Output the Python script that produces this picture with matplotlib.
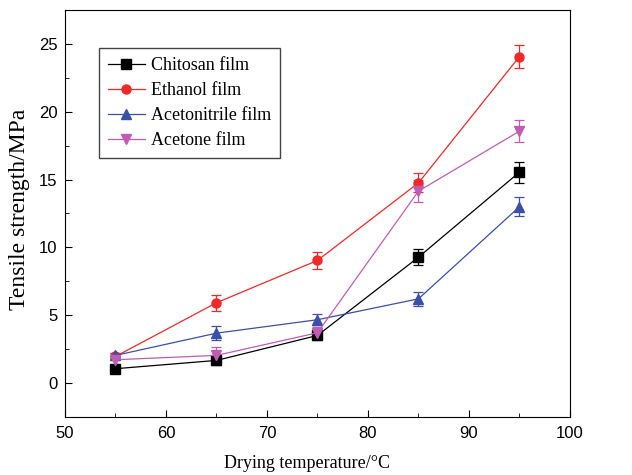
import numpy as np
import matplotlib.pyplot as plt
from matplotlib.ticker import MultipleLocator

plt.rcParams['font.family'] = ['Liberation Serif', 'DejaVu Serif']

temps = [55, 65, 75, 85, 95]

chitosan = [1.06, 1.67, 3.51, 9.28, 15.55]
chitosan_err = [0.25, 0.35, 0.3, 0.6, 0.77]
ethanol = [1.96, 5.92, 9.04, 14.76, 24.07]
ethanol_err = [0.25, 0.6, 0.65, 0.7, 0.83]
acetonitrile = [2.04, 3.68, 4.67, 6.21, 13.0]
acetonitrile_err = [0.2, 0.5, 0.4, 0.5, 0.7]
acetone = [1.72, 2.04, 3.71, 14.15, 18.57]
acetone_err = [0.3, 0.6, 0.4, 0.8, 0.83]

fig = plt.figure(figsize=(6.32, 4.75), dpi=100)
ax = fig.add_axes([0.1028, 0.1221, 0.7991, 0.8569])

series = [
    ("Chitosan film", chitosan, chitosan_err, "black", "s"),
    ("Ethanol film", ethanol, ethanol_err, "#f02828", "o"),
    ("Acetonitrile film", acetonitrile, acetonitrile_err, "#3a4fa8", "^"),
    ("Acetone film", acetone, acetone_err, "#c05cb4", "v"),
]
handles = []
for name, vals, err, col, mk in series:
    c = ax.errorbar(temps, vals, yerr=err, color=col, marker=mk, markersize=6.5,
                    linewidth=0.9, elinewidth=0.9, capsize=3.5, capthick=0.9,
                    label=name)
    handles.append(c.lines[0])

ax.set_xlim(50, 100)
ax.set_ylim(-2.5, 27.5)
ax.xaxis.set_major_locator(MultipleLocator(10))
ax.xaxis.set_minor_locator(MultipleLocator(5))
ax.yaxis.set_major_locator(MultipleLocator(5))
ax.yaxis.set_minor_locator(MultipleLocator(2.5))
ax.set_yticks([0, 5, 10, 15, 20, 25])
ax.tick_params(which="both", direction="in", labelsize=12)
ax.tick_params(axis="x", pad=6.5)
ax.tick_params(axis="y", pad=5.5)
ax.tick_params(which="major", length=5)
ax.tick_params(which="minor", length=3)
for lab in ax.get_xticklabels() + ax.get_yticklabels():
    lab.set_family(["Liberation Sans", "DejaVu Sans"])

ax.set_xlabel("Drying temperature/°C", fontsize=13, labelpad=10, x=0.48)
ax.set_ylabel("Tensile strength/MPa", fontsize=17, labelpad=6, y=0.51)

leg = ax.legend(handles=handles, labels=[s[0] for s in series],
                loc="upper left", bbox_to_anchor=(0.067, 0.907), borderaxespad=0,
                fontsize=13, fancybox=False, edgecolor="#444444", framealpha=1,
                handlelength=2.05, handletextpad=0.35, borderpad=0.5,
                labelspacing=0.45)
leg.get_frame().set_linewidth(1.0)

fig.savefig("out.png", dpi=100)
